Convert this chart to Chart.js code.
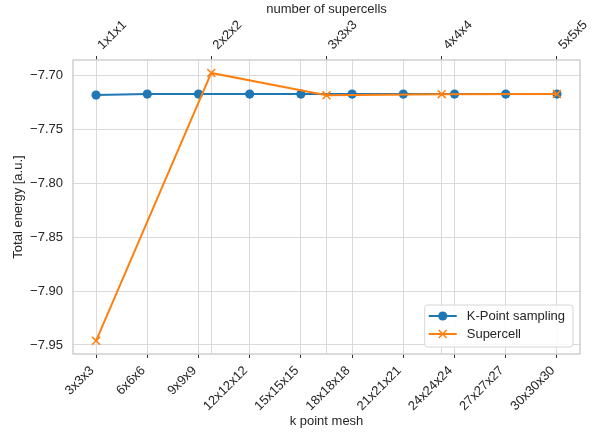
<!DOCTYPE html>
<html>
<head>
<meta charset="utf-8">
<script src="https://cdn.jsdelivr.net/npm/chart.js@4/dist/chart.umd.min.js"></script>
<style>
  html, body { margin: 0; padding: 0; background: #ffffff; }
  #wrap { width: 596px; height: 434px; }
</style>
</head>
<body>
<div id="wrap"><canvas id="chart" width="596" height="434"></canvas></div>
<script>
// k-point meshes (bottom axis) and their total energies
const kpointMeshes = ['3x3x3', '6x6x6', '9x9x9', '12x12x12', '15x15x15',
                      '18x18x18', '21x21x21', '24x24x24', '27x27x27', '30x30x30'];
const kpointEnergy = [-7.7181, -7.7172, -7.7172, -7.7172, -7.7172,
                      -7.7172, -7.7172, -7.7172, -7.7172, -7.7172];

// supercell sizes (top axis) and their total energies
const supercells = ['1x1x1', '2x2x2', '3x3x3', '4x4x4', '5x5x5'];
const supercellEnergy = [-7.9462, -7.6976, -7.7183, -7.7173, -7.7172];

// energy tick values
const energyTicks = [-7.95, -7.90, -7.85, -7.80, -7.75, -7.70];

const FONT = '"Liberation Sans", Arial, Helvetica, sans-serif';
const TEXT = '#262626';
const GRID = '#dadada';
const EDGE = '#cfcfcf';
const BLUE = '#1f77b4';
const ORANGE = '#ff7f0e';

const fmtEnergy = v => (v < 0 ? '\u2212' : '') + Math.abs(v).toFixed(2);

// frame around the plotting area
const framePlugin = {
  id: 'frame',
  beforeDatasetsDraw(chart) {
    const { ctx, chartArea: a } = chart;
    ctx.save();
    ctx.strokeStyle = EDGE;
    ctx.lineWidth = 1.5;
    ctx.strokeRect(a.left, a.top, a.right - a.left, a.bottom - a.top);
    ctx.restore();
  }
};

// legend with line + marker samples, lower right of the plotting area
const lineLegendPlugin = {
  id: 'lineLegend',
  afterDraw(chart) {
    const { ctx, chartArea: a } = chart;
    const sets = chart.data.datasets;
    ctx.save();
    ctx.font = '13px ' + FONT;
    const textW = Math.max(...sets.map(d => ctx.measureText(d.label).width));
    const w = 42 + textW + 8;
    const rowH = 18;
    const h = 6 + rowH * sets.length;
    const x0 = a.right - 7 - w;
    const y0 = a.bottom - 7 - h;
    ctx.beginPath();
    ctx.roundRect(x0, y0, w, h, 3);
    ctx.fillStyle = 'rgba(255,255,255,0.85)';
    ctx.fill();
    ctx.strokeStyle = '#d6d6d6';
    ctx.lineWidth = 1;
    ctx.stroke();
    sets.forEach((d, i) => {
      const cy = y0 + 11 + i * rowH;
      const mx = x0 + 18;
      ctx.strokeStyle = d.borderColor;
      ctx.lineWidth = 2;
      ctx.beginPath();
      ctx.moveTo(x0 + 4, cy);
      ctx.lineTo(x0 + 32, cy);
      ctx.stroke();
      ctx.fillStyle = d.pointBackgroundColor;
      ctx.strokeStyle = d.pointBorderColor;
      ctx.beginPath();
      if (d.pointStyle === 'circle') {
        ctx.arc(mx, cy, d.pointRadius, 0, Math.PI * 2);
        ctx.fill();
      } else {
        const r = d.pointRadius * Math.SQRT1_2;
        ctx.lineWidth = d.pointBorderWidth;
        ctx.moveTo(mx - r, cy - r); ctx.lineTo(mx + r, cy + r);
        ctx.moveTo(mx - r, cy + r); ctx.lineTo(mx + r, cy - r);
        ctx.stroke();
      }
      ctx.fillStyle = TEXT;
      ctx.textBaseline = 'middle';
      ctx.textAlign = 'left';
      ctx.fillText(d.label, x0 + 42, cy + 0.5);
    });
    ctx.restore();
  }
};

const indexTicks = (labels) => (scale) => {
  scale.ticks = labels.map((_, i) => ({ value: i }));
};

new Chart(document.getElementById('chart'), {
  type: 'line',
  data: {
    datasets: [
      {
        label: 'K-Point sampling',
        data: kpointEnergy.map((y, i) => ({ x: i, y })),
        xAxisID: 'x',
        yAxisID: 'y',
        borderColor: BLUE,
        backgroundColor: BLUE,
        borderWidth: 2,
        pointStyle: 'circle',
        pointRadius: 4.6,
        pointBorderWidth: 0,
        pointBackgroundColor: BLUE,
        pointBorderColor: BLUE,
        tension: 0,
        order: 1
      },
      {
        label: 'Supercell',
        data: supercellEnergy.map((y, i) => ({ x: i, y })),
        xAxisID: 'x2',
        yAxisID: 'y',
        borderColor: ORANGE,
        backgroundColor: ORANGE,
        borderWidth: 2,
        pointStyle: 'crossRot',
        pointRadius: 5.6,
        pointBorderWidth: 1.5,
        pointBackgroundColor: ORANGE,
        pointBorderColor: ORANGE,
        tension: 0,
        order: 0
      }
    ]
  },
  options: {
    responsive: false,
    devicePixelRatio: 1,
    animation: false,
    events: [],
    layout: { padding: { left: 0, right: 16, top: 0, bottom: 0 } },
    plugins: {
      legend: { display: false },
      tooltip: { enabled: false }
    },
    scales: {
      x: {
        type: 'linear',
        position: 'bottom',
        min: -0.45,
        max: 9.45,
        afterBuildTicks: indexTicks(kpointMeshes),
        afterFit: s => { s.height = 80; },
        ticks: {
          callback: (v, i) => kpointMeshes[i],
          autoSkip: false,
          minRotation: 45,
          maxRotation: 45,
          padding: 5,
          labelOffset: -4,
          color: TEXT,
          font: { family: FONT, size: 13 }
        },
        grid: { color: GRID, lineWidth: 1, tickColor: '#333333', tickLength: 4 },
        border: { display: false },
        title: {
          display: true,
          text: 'k point mesh',
          color: TEXT,
          font: { family: FONT, size: 13 },
          padding: { top: 0, bottom: 5 }
        }
      },
      x2: {
        type: 'linear',
        position: 'top',
        min: -0.2,
        max: 4.2,
        afterBuildTicks: indexTicks(supercells),
        afterFit: s => { s.height = 60; },
        ticks: {
          callback: (v, i) => supercells[i],
          autoSkip: false,
          minRotation: 45,
          maxRotation: 45,
          padding: 3,
          labelOffset: 15,
          color: TEXT,
          font: { family: FONT, size: 13 }
        },
        grid: { color: GRID, lineWidth: 1, tickColor: '#333333', tickLength: 4 },
        border: { display: false },
        title: {
          display: true,
          text: 'number of supercells',
          color: TEXT,
          font: { family: FONT, size: 13 },
          padding: { top: 2, bottom: 0 }
        }
      },
      y: {
        type: 'linear',
        position: 'left',
        min: -7.9584,
        max: -7.6856,
        afterBuildTicks: s => { s.ticks = energyTicks.map(v => ({ value: v })); },
        afterFit: s => { s.width = 73; },
        ticks: {
          callback: v => fmtEnergy(v),
          padding: 10,
          color: TEXT,
          font: { family: FONT, size: 13 }
        },
        grid: { color: GRID, lineWidth: 1, drawTicks: false },
        border: { display: false },
        title: {
          display: true,
          text: 'Total energy [a.u.]',
          color: TEXT,
          font: { family: FONT, size: 13 },
          padding: { top: 11, bottom: 0 }
        }
      }
    }
  },
  plugins: [framePlugin, lineLegendPlugin]
});
</script>
</body>
</html>
